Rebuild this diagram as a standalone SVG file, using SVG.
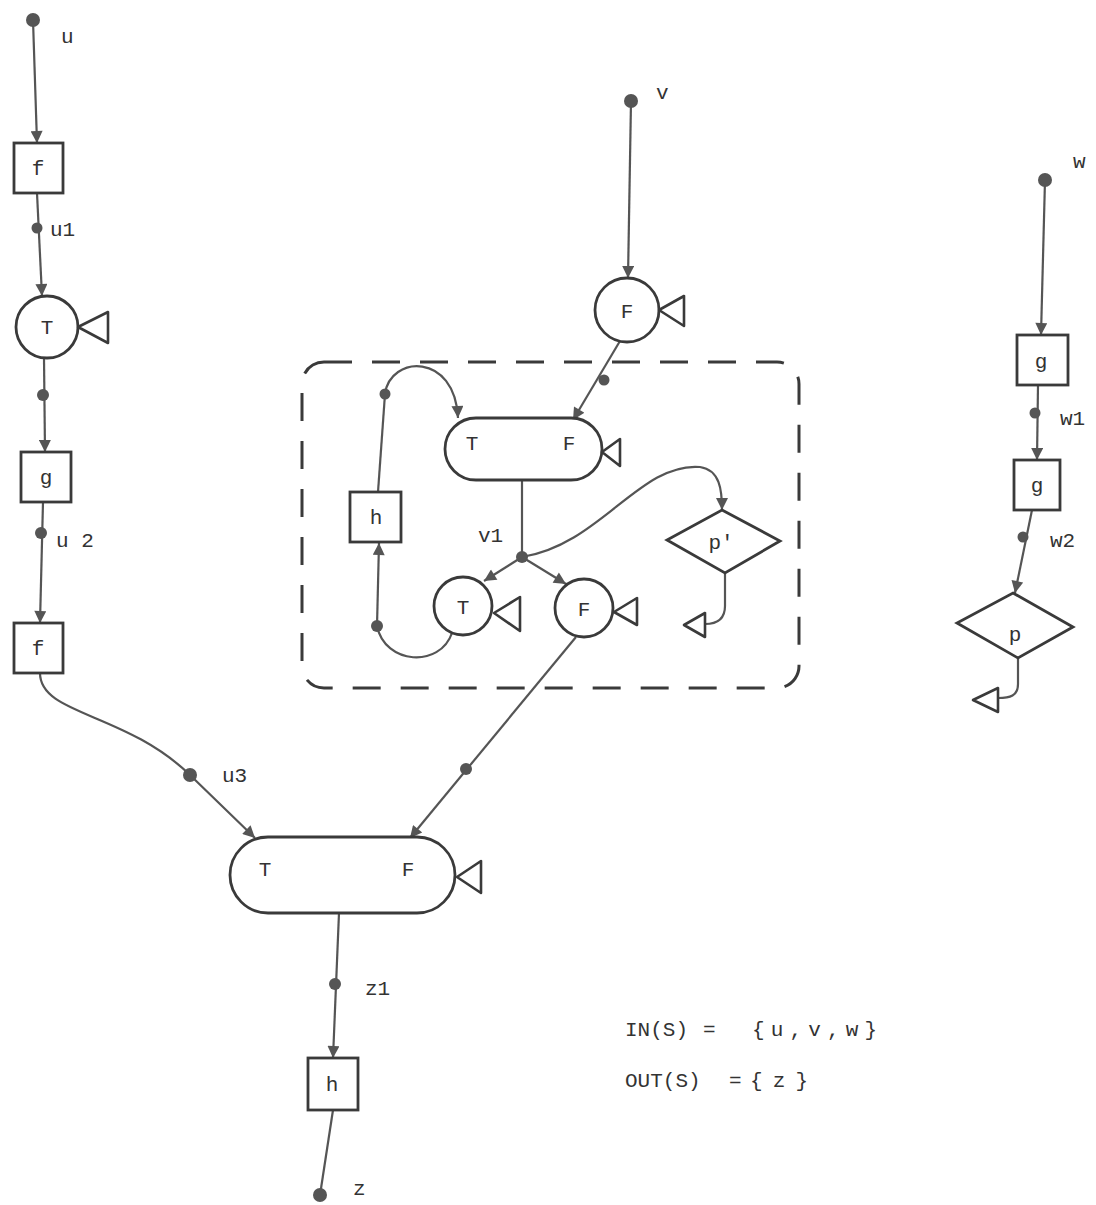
<svg xmlns="http://www.w3.org/2000/svg" width="1096" height="1205" viewBox="0 0 1096 1205">
<defs>
<marker id="arr" viewBox="0 0 10 10" refX="10" refY="5" markerWidth="14" markerHeight="12" markerUnits="userSpaceOnUse" orient="auto">
<path d="M0,0 L10,5 L0,10 z" fill="#555"/>
</marker>
</defs>
<style>
.box{fill:#fff;stroke:#3a3a3a;stroke-width:2.8}
.tri{fill:#fff;stroke:#3a3a3a;stroke-width:2.6;stroke-linejoin:round}
.ln{fill:none;stroke:#555;stroke-width:2.2}
.dot{fill:#555}
.t{font-family:"Liberation Mono","DejaVu Sans Mono",monospace;font-size:21px;fill:#333}
.c{text-anchor:middle}
.dash{fill:none;stroke:#3a3a3a;stroke-width:3;stroke-dasharray:28 20}
</style>
<rect width="1096" height="1205" fill="#fff"/>

<g id="connectors">
<line class="ln" x1="33" y1="20" x2="37" y2="143" marker-end="url(#arr)"/>
<line class="ln" x1="37" y1="193" x2="42" y2="296" marker-end="url(#arr)"/>
<line class="ln" x1="44" y1="358" x2="45" y2="452" marker-end="url(#arr)"/>
<line class="ln" x1="43" y1="502" x2="40" y2="623" marker-end="url(#arr)"/>
<path class="ln" d="M40,673 C40,715 125,712 190,775 L255,838" marker-end="url(#arr)"/>
<line class="ln" x1="631" y1="101" x2="628" y2="278" marker-end="url(#arr)"/>
<line class="ln" x1="620" y1="341" x2="573" y2="420" marker-end="url(#arr)"/>
<line class="ln" x1="385" y1="394" x2="378" y2="492"/>
<path class="ln" d="M385,394 C390,355 455,352 458,418" marker-end="url(#arr)"/>
<line class="ln" x1="377" y1="626" x2="379" y2="543" marker-end="url(#arr)"/>
<path class="ln" d="M377,626 C385,665 440,668 452,633"/>
<line class="ln" x1="522" y1="480" x2="522" y2="557"/>
<line class="ln" x1="522" y1="557" x2="484" y2="581" marker-end="url(#arr)"/>
<line class="ln" x1="522" y1="557" x2="566" y2="584" marker-end="url(#arr)"/>
<path class="ln" d="M522,557 C600,545 640,462 700,467 C720,470 722,490 722,510" marker-end="url(#arr)"/>
<path class="ln" d="M725,573 L725,606 C725,620 716,624 705,624"/>
<line class="ln" x1="576" y1="637" x2="410" y2="838" marker-end="url(#arr)"/>
<line class="ln" x1="339" y1="913" x2="333" y2="1058" marker-end="url(#arr)"/>
<line class="ln" x1="333" y1="1110" x2="320" y2="1195"/>
<line class="ln" x1="1045" y1="180" x2="1041" y2="335" marker-end="url(#arr)"/>
<line class="ln" x1="1038" y1="385" x2="1037" y2="460" marker-end="url(#arr)"/>
<line class="ln" x1="1032" y1="510" x2="1015" y2="593" marker-end="url(#arr)"/>
<path class="ln" d="M1018,658 L1018,684 C1018,696 1010,698 998,698"/>
<circle class="dot" cx="33" cy="20" r="7"/>
<circle class="dot" cx="37" cy="228" r="5.5"/>
<circle class="dot" cx="43" cy="395" r="6"/>
<circle class="dot" cx="41" cy="533" r="6"/>
<circle class="dot" cx="190" cy="775" r="7"/>
<circle class="dot" cx="631" cy="101" r="7"/>
<circle class="dot" cx="604" cy="380" r="5.5"/>
<circle class="dot" cx="385" cy="394" r="5.5"/>
<circle class="dot" cx="377" cy="626" r="6"/>
<circle class="dot" cx="522" cy="557" r="6"/>
<circle class="dot" cx="466" cy="769" r="6"/>
<circle class="dot" cx="335" cy="984" r="6"/>
<circle class="dot" cx="320" cy="1195" r="7"/>
<circle class="dot" cx="1045" cy="180" r="7"/>
<circle class="dot" cx="1035" cy="413" r="5.5"/>
<circle class="dot" cx="1023" cy="537" r="5.5"/>
</g>

<g id="dashed-region">
<rect class="dash" x="302" y="362" width="497" height="326" rx="22"/>
</g>

<g id="node-u-f1"><rect class="box" x="14" y="143" width="49" height="50"/><text class="t c" x="38" y="175">f</text></g>
<g id="node-u-T"><circle class="box" cx="47" cy="327" r="31"/><text class="t c" x="47" y="334">T</text><polygon class="tri" points="78,327 108,312 108,343"/></g>
<g id="node-u-g"><rect class="box" x="21" y="452" width="50" height="50"/><text class="t c" x="46" y="484">g</text></g>
<g id="node-u-f2"><rect class="box" x="14" y="623" width="49" height="50"/><text class="t c" x="38" y="655">f</text></g>

<g id="node-v-F"><circle class="box" cx="627" cy="310" r="32"/><text class="t c" x="627" y="318">F</text><polygon class="tri" points="659,310 684,296 684,326"/></g>
<g id="node-merge-inner"><rect class="box" x="445" y="418" width="157" height="62" rx="31"/><text class="t c" x="472" y="450">T</text><text class="t c" x="569" y="450">F</text><polygon class="tri" points="602,452 620,439 620,466"/></g>
<g id="node-h-inner"><rect class="box" x="350" y="492" width="51" height="50"/><text class="t c" x="376" y="524">h</text></g>
<g id="node-inner-T"><circle class="box" cx="463" cy="606" r="29"/><text class="t c" x="463" y="614">T</text><polygon class="tri" points="494,613 520,597 520,631"/></g>
<g id="node-inner-F"><circle class="box" cx="584" cy="608" r="29"/><text class="t c" x="584" y="616">F</text><polygon class="tri" points="614,612 637,598 637,625"/></g>
<g id="node-pprime"><polygon class="box" points="722,510 780,541 725,573 667,540"/><text class="t c" x="721" y="549">p'</text><polygon class="tri" points="684,625 705,613 705,637"/></g>

<g id="node-merge-outer"><rect class="box" x="230" y="837" width="225" height="76" rx="38"/><text class="t c" x="265" y="876">T</text><text class="t c" x="408" y="876">F</text><polygon class="tri" points="457,877 481,861 481,893"/></g>
<g id="node-z-h"><rect class="box" x="308" y="1058" width="50" height="52"/><text class="t c" x="332" y="1091">h</text></g>

<g id="node-w-g1"><rect class="box" x="1017" y="335" width="51" height="50"/><text class="t c" x="1041" y="368">g</text></g>
<g id="node-w-g2"><rect class="box" x="1014" y="460" width="46" height="50"/><text class="t c" x="1037" y="492">g</text></g>
<g id="node-p"><polygon class="box" points="1013,593 1073,627 1018,658 957,623"/><text class="t c" x="1015" y="641">p</text><polygon class="tri" points="973,700 998,688 998,712"/></g>

<g id="labels">
<text class="t" x="61" y="43">u</text>
<text class="t" x="50" y="236">u1</text>
<text class="t" x="56" y="547">u 2</text>
<text class="t" x="222" y="782">u3</text>
<text class="t" x="656" y="99">v</text>
<text class="t" x="478" y="542">v1</text>
<text class="t" x="365" y="995">z1</text>
<text class="t" x="353" y="1195">z</text>
<text class="t" x="1073" y="168">w</text>
<text class="t" x="1060" y="425">w1</text>
<text class="t" x="1050" y="547">w2</text>
<text class="t" x="625" y="1036">IN(S)</text>
<text class="t" x="703" y="1036">=</text>
<text class="t" x="752" y="1036" textLength="125" lengthAdjust="spacing">{u,v,w}</text>
<text class="t" x="625" y="1087">OUT(S)</text>
<text class="t" x="729" y="1087">=</text>
<text class="t" x="750" y="1087" textLength="58" lengthAdjust="spacing">{z}</text>
</g>
</svg>
